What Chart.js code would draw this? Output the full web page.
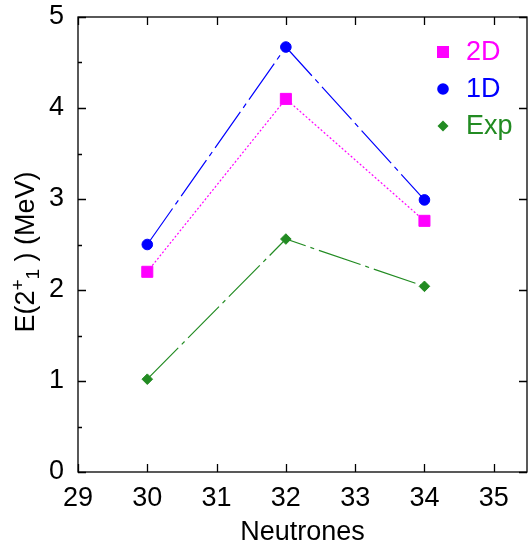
<!DOCTYPE html>
<html>
<head>
<meta charset="utf-8">
<script src="https://cdn.jsdelivr.net/npm/chart.js@4/dist/chart.umd.min.js"></script>
<style>
html, body { margin: 0; padding: 0; background: #fff; }
canvas { display: block; }
</style>
</head>
<body>
<canvas id="myChart" width="528" height="550"></canvas>
<script>
let neutrons = [30, 32, 34];
let values2D = [2.20, 4.10, 2.76];
let values1D = [2.50, 4.67, 2.99];
let valuesExp = [1.02, 2.56, 2.04];
let xTicks = [29, 30, 31, 32, 33, 34, 35];
let yTicks = [0, 1, 2, 3, 4, 5];
let yMinorTicks = [0.5, 1.5, 2.5, 3.5, 4.5];
let seriesNames = ['2D', '1D', 'Exp'];
let seriesColors = ['#ff00ff', '#0000ff', '#228b22'];

const FONT = '"Liberation Sans", Arial, sans-serif';
const FSIZE = 27;

function toPoints(vals) {
	return neutrons.map((n, i) => ({ x: n, y: vals[i] }));
}

function noPad(s) {
	s.paddingTop = 0; s.paddingBottom = 0; s.paddingLeft = 0; s.paddingRight = 0;
}

// gnuplot style box with inward ticks, legend and y title
const framePlugin = {
	id: 'frame',
	afterDraw(chart) {
		let ctx = chart.ctx;
		let a = chart.chartArea;
		let xs = chart.scales.x;
		let ys = chart.scales.y;
		ctx.save();
		ctx.strokeStyle = '#000';
		ctx.lineWidth = 1.3;
		ctx.strokeRect(a.left, a.top, a.right - a.left, a.bottom - a.top);
		ctx.beginPath();
		xTicks.forEach(v => {
			let px = Math.round(xs.getPixelForValue(v)) + 0.5;
			ctx.moveTo(px, a.bottom); ctx.lineTo(px, a.bottom - 8);
			ctx.moveTo(px, a.top); ctx.lineTo(px, a.top + 8);
		});
		yTicks.forEach(v => {
			let py = Math.round(ys.getPixelForValue(v)) + 0.5;
			ctx.moveTo(a.left, py); ctx.lineTo(a.left + 8, py);
			ctx.moveTo(a.right, py); ctx.lineTo(a.right - 8, py);
		});
		yMinorTicks.forEach(v => {
			let py = Math.round(ys.getPixelForValue(v)) + 0.5;
			ctx.moveTo(a.left, py); ctx.lineTo(a.left + 4, py);
		});
		ctx.stroke();

		// legend
		let ly = [52, 89, 126];
		ctx.font = FSIZE + 'px ' + FONT;
		ctx.textBaseline = 'middle';
		ctx.textAlign = 'left';
		seriesNames.forEach((name, i) => {
			let mx = 443, my = ly[i];
			ctx.fillStyle = seriesColors[i];
			ctx.beginPath();
			if (i === 0) ctx.rect(mx - 6, my - 6, 12, 12);
			else if (i === 1) ctx.arc(mx, my, 5.8, 0, Math.PI * 2);
			else { ctx.moveTo(mx - 5.5, my); ctx.lineTo(mx, my - 5.5); ctx.lineTo(mx + 5.5, my); ctx.lineTo(mx, my + 5.5); ctx.closePath(); }
			ctx.fill();
			ctx.fillText(name, 466, my + 1);
		});

		// y title: E(2^+_1 ) (MeV)
		ctx.translate(34, 252);
		ctx.rotate(-Math.PI / 2);
		ctx.fillStyle = '#000';
		ctx.textBaseline = 'alphabetic';
		let big = FSIZE + 'px ' + FONT, small = '19px ' + FONT;
		let parts = [['E(2', big, 0], ['+', small, -10], ['1', small, 5], [' ) (MeV)', big, 0]];
		let total = 0;
		parts.forEach(p => { ctx.font = p[1]; total += ctx.measureText(p[0]).width; });
		let x = -total / 2;
		parts.forEach(p => {
			ctx.font = p[1];
			ctx.fillText(p[0], x, p[2]);
			x += ctx.measureText(p[0]).width;
		});
		ctx.restore();
	}
};

let ctx = document.getElementById('myChart');
let myChart = new Chart(ctx, {
	type: 'line',
	data: {
		datasets: [{
			label: '2D',
			data: toPoints(values2D),
			borderColor: seriesColors[0],
			backgroundColor: seriesColors[0],
			borderWidth: 1.2,
			borderDash: [2, 2],
			pointStyle: 'rect',
			pointRadius: 7.8,
			pointBorderWidth: 1
		}, {
			label: '1D',
			data: toPoints(values1D),
			borderColor: seriesColors[1],
			backgroundColor: seriesColors[1],
			borderWidth: 1.2,
			borderDash: [44, 5, 5, 5],
			pointStyle: 'circle',
			pointRadius: 5.3,
			pointBorderWidth: 1
		}, {
			label: 'Exp',
			data: toPoints(valuesExp),
			borderColor: seriesColors[2],
			backgroundColor: seriesColors[2],
			borderWidth: 1.2,
			borderDash: [44, 5, 4, 5],
			pointStyle: 'rectRot',
			pointRadius: 5.3,
			pointBorderWidth: 1
		}]
	},
	options: {
		responsive: false,
		animation: false,
		layout: { autoPadding: false, padding: { top: 17, right: 1, left: 0, bottom: 0 } },
		plugins: { legend: { display: false }, tooltip: { enabled: false } },
		scales: {
			x: {
				type: 'linear',
				min: 29,
				max: 35.48,
				grid: { display: false, drawTicks: false },
				border: { display: false },
				ticks: { stepSize: 1, includeBounds: false, padding: 10, color: '#000', font: { family: FONT, size: FSIZE } },
				title: { display: true, text: 'Neutrones', color: '#000', font: { family: FONT, size: FSIZE }, padding: { top: 0, bottom: 1 } },
				afterFit: s => { s.height = 78; noPad(s); }
			},
			y: {
				min: 0,
				max: 5,
				grid: { display: false, drawTicks: false },
				border: { display: false },
				ticks: { stepSize: 1, padding: 14, color: '#000', font: { family: FONT, size: FSIZE } },
				afterFit: s => { s.width = 78; noPad(s); }
			}
		}
	},
	plugins: [framePlugin]
});
</script>
</body>
</html>
